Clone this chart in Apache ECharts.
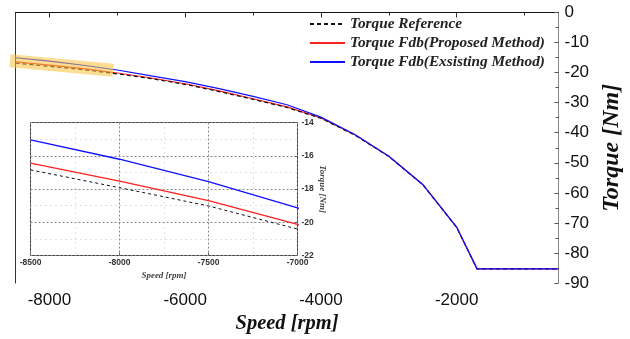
<!DOCTYPE html>
<html>
<head>
<meta charset="utf-8">
<script src="https://cdn.jsdelivr.net/npm/echarts@6/dist/echarts.min.js"></script>
<style>
  html, body { margin: 0; padding: 0; background: #fff; }
  #chart { width: 630px; height: 339px; }
</style>
</head>
<body>
<div id="chart"></div>
<script>
// Motor speed samples [rpm] and torque curves [Nm]
const speed = [-8500, -8000, -7500, -7000, -6500, -6000, -5500, -5000, -4500, -4000, -3500, -3000, -2500, -2000, -1700, -500];
const torqueRef = [-16.85, -17.92, -19.02, -20.41, -22.0, -23.9, -26.3, -28.9, -31.6, -35.2, -40.8, -47.9, -57.3, -71.5, -85.3, -85.3];
const torqueProposed = [-16.45, -17.52, -18.70, -20.13, -21.8, -23.7, -26.1, -28.7, -31.4, -35.1, -40.7, -47.8, -57.2, -71.5, -85.3, -85.3];
const torqueExisting = [-15.05, -16.21, -17.56, -19.13, -21.1, -23.0, -25.3, -27.9, -30.7, -34.8, -40.6, -47.8, -57.2, -71.4, -85.3, -85.3];

// Highlighted stretch at high speed
const highlightSpeed = [-8580, -7060];
const highlightTorque = [-16.05, -19.2];

// Axis ticks
const xMajorTicks = [-8000, -6000, -4000, -2000];
const xMinorTicks = [-7000, -5000, -3000, -1000];

const seriesNames = ['Torque Reference', 'Torque Fdb(Proposed Method)', 'Torque Fdb(Exsisting Method)'];

const zip = (xs, ys) => xs.map((x, i) => [x, ys[i]]);
const plain = v => String(v);

const SERIF = '"Liberation Serif", "Times New Roman", serif';
const SANS = '"Liberation Sans", Arial, sans-serif';

const chart = echarts.init(document.getElementById('chart'), null, { renderer: 'canvas' });

function lineSeries(name, data, color, type, xi, yi, z, width) {
  return {
    name: name,
    type: 'line',
    data: data,
    xAxisIndex: xi,
    yAxisIndex: yi,
    showSymbol: false,
    symbol: 'none',
    animation: false,
    z: z,
    lineStyle: { color: color, width: width, type: type },
    itemStyle: { color: color }
  };
}

const option = {
  animation: false,
  backgroundColor: '#fff',
  grid: [
    { left: 15.5, right: 71.5, top: 12.5, bottom: 56, containLabel: false, outerBoundsMode: 'none' },
    { left: 30.5, top: 122.5, width: 267, height: 133, show: true, outerBoundsMode: 'none',
      backgroundColor: '#fff', borderColor: '#333', borderWidth: 1, z: 1 }
  ],
  legend: {
    data: seriesNames,
    orient: 'vertical',
    left: 304,
    top: 11,
    itemWidth: 35,
    itemHeight: 10,
    itemGap: 3,
    itemStyle: { opacity: 0, borderWidth: 0 },
    textStyle: { fontFamily: SERIF, fontStyle: 'italic', fontWeight: 'bold', fontSize: 15.3, lineHeight: 16, color: '#222' }
  },
  xAxis: [
    { // main speed axis
      type: 'value', gridIndex: 0, min: -8500, max: -500, position: 'bottom',
      axisLine: { show: true, lineStyle: { color: '#111', width: 1 } },
      axisTick: { show: true, length: 5, customValues: xMajorTicks, lineStyle: { color: '#333' } },
      axisLabel: { customValues: xMajorTicks, formatter: plain, fontFamily: SANS, fontSize: 17, color: '#111', margin: 9 },
      splitLine: { show: false },
      name: 'Speed [rpm]', nameLocation: 'middle', nameGap: 30,
      nameTextStyle: { fontFamily: SERIF, fontStyle: 'italic', fontWeight: 'bold', fontSize: 20.5, color: '#111' }
    },
    { // minor ticks on the speed axis
      type: 'value', gridIndex: 0, min: -8500, max: -500, position: 'bottom',
      axisLine: { show: false },
      axisTick: { show: true, length: 3, customValues: xMinorTicks, lineStyle: { color: '#333' } },
      axisLabel: { show: false },
      splitLine: { show: false }
    },
    { // top frame line
      type: 'value', gridIndex: 0, min: -8500, max: -500, position: 'top',
      axisLine: { show: true, lineStyle: { color: '#111' } },
      axisTick: { show: false }, axisLabel: { show: false }, splitLine: { show: false }
    },
    { // inset speed axis
      type: 'value', gridIndex: 1, min: -8500, max: -7000, interval: 500, position: 'bottom', z: 3,
      axisLine: { show: false },
      axisTick: { show: true, inside: true, length: 3, lineStyle: { color: '#666' } },
      minorTick: { show: false, splitNumber: 2 },
      axisLabel: { formatter: plain, fontFamily: SANS, fontSize: 8.5, fontWeight: 'bold', color: '#333', margin: 3 },
      splitLine: { show: true, lineStyle: { color: '#8a8a8a', type: [2, 2], width: 1 } },
      minorSplitLine: { show: true, lineStyle: { color: '#c4c4c4', type: [1, 4], width: 1 } },
      name: 'Speed [rpm]', nameLocation: 'middle', nameGap: 16,
      nameTextStyle: { fontFamily: SERIF, fontStyle: 'italic', fontWeight: 'bold', fontSize: 9, color: '#444' }
    }
  ],
  yAxis: [
    { // main torque axis
      type: 'value', gridIndex: 0, min: -90, max: 0, interval: 10, position: 'right',
      axisLine: { show: true, lineStyle: { color: '#888', width: 1 } },
      axisTick: { show: true, inside: true, length: 4, lineStyle: { color: '#555' } },
      minorTick: { show: true, splitNumber: 2, length: 3, lineStyle: { color: '#555' } },
      axisLabel: { fontFamily: SANS, fontSize: 17, color: '#111', margin: 6 },
      splitLine: { show: false },
      name: 'Torque [Nm]', nameLocation: 'middle', nameGap: 37, nameRotate: 90,
      nameTextStyle: { fontFamily: SERIF, fontStyle: 'italic', fontWeight: 'bold', fontSize: 24, color: '#111' }
    },
    { // left frame line
      type: 'value', gridIndex: 0, min: -90, max: 0, position: 'left',
      axisLine: { show: true, lineStyle: { color: '#333' } },
      axisTick: { show: false }, axisLabel: { show: false }, splitLine: { show: false }
    },
    { // inset torque axis
      type: 'value', gridIndex: 1, min: -22, max: -14, interval: 2, position: 'right', z: 3,
      axisLine: { show: false },
      axisTick: { show: true, inside: true, length: 3, lineStyle: { color: '#666' } },
      minorTick: { show: false, splitNumber: 2 },
      axisLabel: { fontFamily: SANS, fontSize: 8.5, fontWeight: 'bold', color: '#333', margin: 4 },
      splitLine: { show: true, lineStyle: { color: '#8a8a8a', type: [2, 2], width: 1 } },
      minorSplitLine: { show: true, lineStyle: { color: '#c4c4c4', type: [1, 4], width: 1 } },
      name: 'Torque [Nm]', nameLocation: 'middle', nameGap: 17, nameRotate: -90,
      nameTextStyle: { fontFamily: SERIF, fontStyle: 'italic', fontWeight: 'bold', fontSize: 9, color: '#444' }
    }
  ],
  series: [
    lineSeries(seriesNames[1], zip(speed, torqueProposed), '#ff2020', 'solid', 0, 0, 3, 1.2),
    lineSeries(seriesNames[0], zip(speed, torqueRef), '#111', [4, 3], 0, 0, 4, 1.2),
    lineSeries(seriesNames[2], zip(speed, torqueExisting), '#1010ff', 'solid', 0, 0, 5, 1.2),
    lineSeries('inset-existing', zip(speed, torqueExisting), '#1010ff', 'solid', 3, 2, 6, 1.3),
    lineSeries('inset-proposed', zip(speed, torqueProposed), '#ff2020', 'solid', 3, 2, 7, 1.3),
    lineSeries('inset-reference', zip(speed, torqueRef), '#111', [3, 3], 3, 2, 8, 1),
    {
      name: 'highlight',
      type: 'line',
      data: zip(highlightSpeed, highlightTorque),
      xAxisIndex: 0, yAxisIndex: 0,
      showSymbol: false, symbol: 'none',
      clip: false, silent: true, z: 9,
      lineStyle: { color: 'rgba(247, 194, 60, 0.55)', width: 13, cap: 'butt' }
    }
  ]
};

chart.setOption(option);
</script>
</body>
</html>
